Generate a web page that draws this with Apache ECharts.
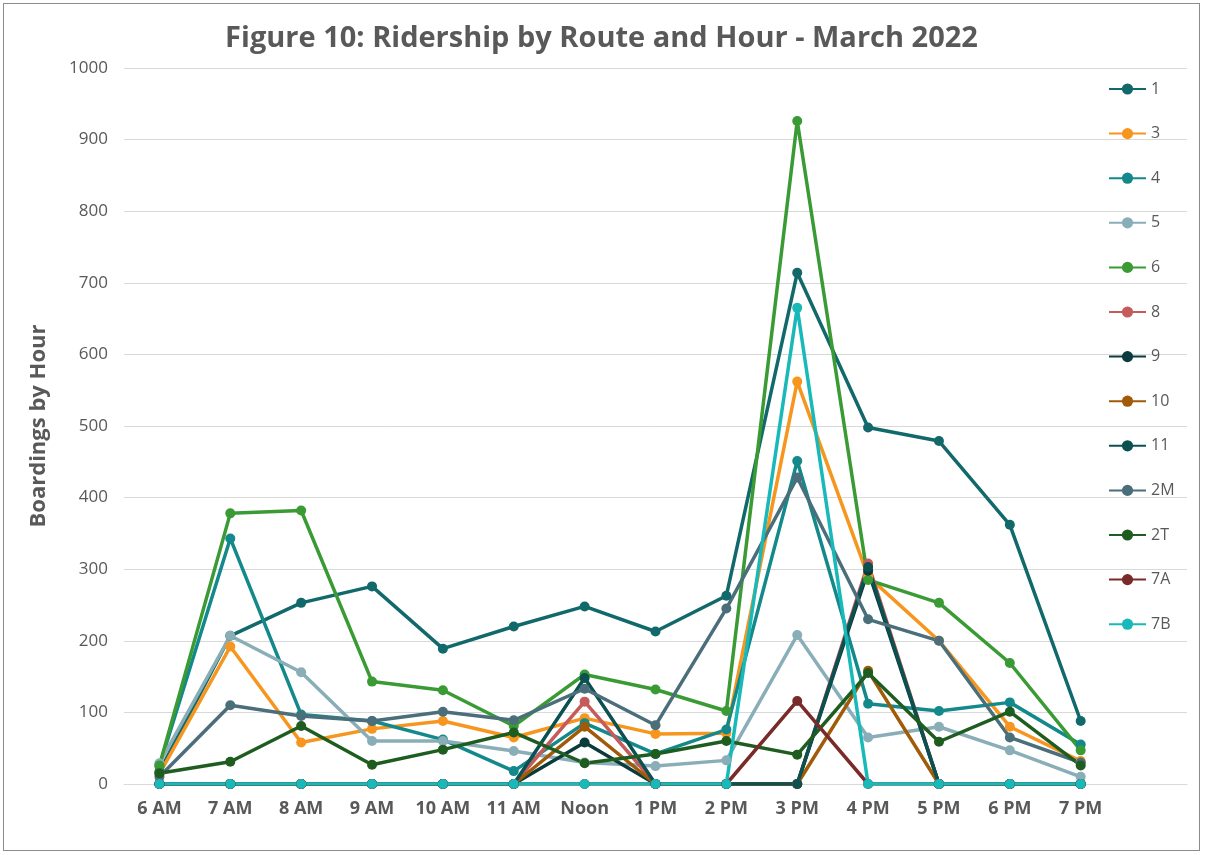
<!DOCTYPE html>
<html>
<head>
<meta charset="utf-8">
<script src="https://cdn.jsdelivr.net/npm/echarts@6/dist/echarts.min.js"></script>
<style>
  html, body { margin: 0; padding: 0; background: #fff; }
  #chart { position: absolute; left: 3px; top: 3px; width: 1197px; height: 848px;
           border: 1.5px solid #8c8c8c; box-sizing: border-box; }
</style>
</head>
<body>
<div id="chart"></div>
<script>
// categories (last one is blank, as in the source sheet)
const hours = ['6 AM', '7 AM', '8 AM', '9 AM', '10 AM', '11 AM', 'Noon', '1 PM', '2 PM', '3 PM', '4 PM', '5 PM', '6 PM', '7 PM', ''];

// boardings per route
const route1  = [17, 207, 253, 276, 189, 220, 248, 213, 263, 714, 498, 479, 362, 88];
const route3  = [14, 192, 58, 77, 88, 65, 92, 70, 71, 562, 290, 200, 80, 32];
const route4  = [25, 343, 97, 88, 62, 18, 85, 42, 76, 451, 112, 102, 114, 55];
const route5  = [29, 207, 156, 60, 60, 46, 30, 25, 33, 208, 65, 80, 47, 10];
const route6  = [26, 378, 382, 143, 131, 81, 153, 132, 102, 926, 285, 253, 169, 47];
const route8  = [0, 0, 0, 0, 0, 0, 115, 0, 0, 0, 308, 0, 0, 0];
const route9  = [0, 0, 0, 0, 0, 0, 58, 0, 0, 0, 298, 0, 0, 0];
const route10 = [0, 0, 0, 0, 0, 0, 80, 0, 0, 0, 158, 0, 0, 0];
const route11 = [0, 0, 0, 0, 0, 0, 148, 0, 0, 0, 303, 0, 0, 0];
const route2M = [10, 110, 95, 88, 101, 89, 133, 82, 245, 428, 230, 200, 65, 30];
const route2T = [15, 31, 81, 27, 48, 72, 29, 42, 60, 41, 155, 59, 101, 26];
const route7A = [0, 0, 0, 0, 0, 0, 0, 0, 0, 116, 0, 0, 0, 0];
const route7B = [0, 0, 0, 0, 0, 0, 0, 0, 0, 665, 0, 0, 0, 0];

const routeNames = ['1', '3', '4', '5', '6', '8', '9', '10', '11', '2M', '2T', '7A', '7B'];
const routeData = [route1, route3, route4, route5, route6, route8, route9, route10, route11, route2M, route2T, route7A, route7B];
const routeColors = ['#12696b', '#f7961e', '#13898b', '#8aaeb8', '#3a9b35', '#c65b5b', '#0b3b3c',
                     '#a05b08', '#0c5151', '#4b6e7b', '#1f5c20', '#7b2a2a', '#19b9b9'];

const font = '"Open Sans", "Liberation Sans", sans-serif';
const textGray = '#595959';

const chart = echarts.init(document.getElementById('chart'), null, { renderer: 'canvas' });

chart.setOption({
  animation: false,
  backgroundColor: '#fff',
  title: {
    text: 'Figure 10: Ridership by Route and Hour - March 2022',
    left: 'center',
    top: 15,
    textStyle: { fontFamily: font, fontSize: 29, fontWeight: 'bold', color: textGray }
  },
  legend: {
    orient: 'vertical',
    left: 1099,
    top: 72,
    itemWidth: 37,
    itemHeight: 14,
    itemGap: 28.6,
    data: routeNames,
    textStyle: { fontFamily: font, fontSize: 16, color: textGray }
  },
  grid: { left: 120, right: 12, top: 64, bottom: 66 },
  xAxis: {
    type: 'category',
    data: hours,
    boundaryGap: true,
    axisLine: { lineStyle: { color: '#d9d9d9', width: 1 } },
    axisTick: { show: false },
    axisLabel: { fontFamily: font, fontSize: 18, fontWeight: 'bold', color: textGray, margin: 16, interval: 0 }
  },
  yAxis: {
    type: 'value',
    min: 0,
    max: 1000,
    interval: 100,
    name: 'Boardings by Hour',
    nameLocation: 'middle',
    nameGap: 74,
    nameTextStyle: { fontFamily: font, fontSize: 22, fontWeight: 'bold', color: textGray },
    axisLine: { show: false },
    axisTick: { show: false },
    axisLabel: { fontFamily: font, fontSize: 17, color: textGray, margin: 16, formatter: (v) => String(v) },
    splitLine: { lineStyle: { color: '#d9d9d9', width: 1 } }
  },
  series: routeNames.map((name, i) => ({
    name: name,
    type: 'line',
    data: routeData[i],
    color: routeColors[i],
    symbol: 'circle',
    symbolSize: 10,
    lineStyle: { width: 3.5 },
    emphasis: { disabled: true }
  }))
});
</script>
</body>
</html>
